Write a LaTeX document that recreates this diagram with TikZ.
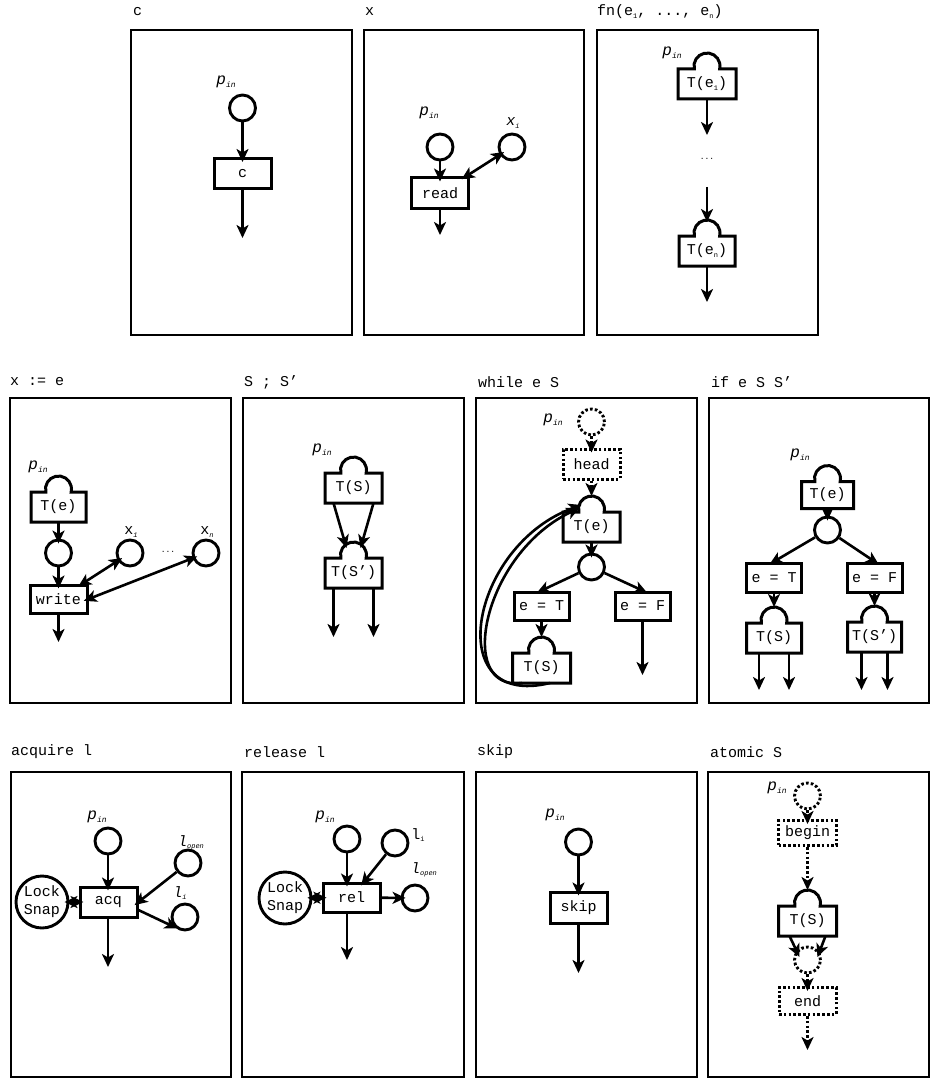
\documentclass[tikz,border=0pt]{standalone}
\usepackage{fontspec}
\usetikzlibrary{arrows.meta,calc}
\newfontfamily\cour{Liberation Mono}
\newcommand\labfont{\cour\fontsize{15}{18}\selectfont}
\newcommand\mysub[1]{\raisebox{-2.5pt}{\fontsize{7}{7}\selectfont #1}}
\newcommand\pinlab{{\itshape\fontsize{16}{16}\selectfont p}\raisebox{-3pt}{\itshape\fontsize{8}{8}\selectfont in}}
\newcommand\capbox[5][]{%
  \node[capbody, minimum width=#4pt, #1] (#2) at #3 {#5};
  \draw[nodeline] (#2.north west) -- ($(#2.north)+(-12.65,0)$) arc[start angle=193.3, end angle=-13.3, radius=13] -- (#2.north east) -- (#2.south east) -- (#2.south west) -- cycle;
  \coordinate (#2-cap) at ($(#2.north)+(0,16)$);
}
\tikzset{
  frame/.style={line width=2.7pt},
  nodeline/.style={line width=3pt, line join=miter},
  dotstyle/.style={dash pattern=on 2.6pt off 2.2pt},
  place/.style={circle, draw, line width=2.9pt, minimum size=26pt, inner sep=0pt},
  dotplace/.style={place, dotstyle},
  trans/.style={rectangle, draw, line width=3pt, minimum width=57pt, minimum height=30pt, inner sep=0pt, font=\labfont},
  dottrans/.style={trans, dotstyle},
  capbody/.style={rectangle, draw=none, minimum height=30pt, inner sep=0pt, outer sep=0pt, font=\labfont},
  lock/.style={circle, draw, line width=2.9pt, minimum size=52pt, inner sep=0pt, align=center, font=\labfont},
  lab/.style={anchor=west, inner sep=0pt, font=\labfont},
  plab/.style={inner sep=0pt, font=\labfont},
  dots/.style={inner sep=0pt, font=\cour\fontsize{8}{8}\selectfont},
  arr/.style={line width=2.6pt, -{Stealth[length=13pt, width=12pt, inset=3.5pt]}},
  arrin/.style={arr, shorten >=-5pt},
  darrin/.style={line width=2.6pt, {Stealth[length=13pt, width=12pt, inset=3.5pt]}-{Stealth[length=13pt, width=12pt, inset=3.5pt]}, shorten >=-5pt, shorten <=-5pt},
  dotarr/.style={arr, dotstyle},
  dotarrin/.style={arrin, dotstyle},
}
\begin{document}
\begin{tikzpicture}[x=1pt, y=1pt]
\useasboundingbox (0,0) rectangle (931,-1078);

% ---------- frames ----------
\draw[frame] (131,-30) rectangle (352,-335);
\draw[frame] (364,-30) rectangle (584,-335);
\draw[frame] (597,-30) rectangle (818,-335);
\draw[frame] (10,-398) rectangle (231,-703);
\draw[frame] (243,-398) rectangle (464,-703);
\draw[frame] (476,-398) rectangle (697,-703);
\draw[frame] (709,-398) rectangle (929,-703);
\draw[frame] (11,-772) rectangle (231,-1077);
\draw[frame] (242,-772) rectangle (464,-1077);
\draw[frame] (476,-772) rectangle (697,-1077);
\draw[frame] (708,-772) rectangle (929,-1077);

% ---------- titles ----------
\node[lab] (L1) at (133,-12) {c};
\node[lab] (L2) at (365,-12) {x};
\node[lab] (L3) at (597,-12) {fn(e\mysub{1}, ..., e\mysub{n})};
\node[lab] (L4) at (10,-382) {x := e};
\node[lab] (L5) at (244,-382) {S ; S’};
\node[lab] (L6) at (478,-382) {while e S};
\node[lab] (L7) at (711,-382) {if e S S’};
\node[lab] (L8) at (11,-752) {acquire l};
\node[lab] (L9) at (244,-752) {release l};
\node[lab] (L10) at (477,-752) {skip};
\node[lab] (L11) at (710,-752) {atomic S};

% ---------- c ----------
\node[plab] (c-pl) at (226,-82) {\pinlab};
\node[place] (c-p) at (242.5,-108) {};
\node[trans] (c-t) at (242.5,-173.5) {c};
\coordinate (c-o) at (242.5,-238);
\draw[arrin] (c-p) -- (c-t);
\draw[arr] (c-t) -- (c-o);

% ---------- x ----------
\node[plab] (x-pl) at (429,-113) {\pinlab};
\node[place] (x-p) at (440,-147) {};
\node[place] (x-x) at (512,-147) {};
\node[plab] (x-xl) at (513,-123) {{\itshape x}\mysub{\itshape i}};
\node[trans] (x-t) at (440,-193) {read};
\coordinate (x-o) at (440,-235);
\draw[arrin] (x-p) -- (x-t);
\draw[darrin] (x-t) -- (x-x);
\draw[arr] (x-t) -- (x-o);

% ---------- fn ----------
\node[plab] (f-pl) at (672,-53) {\pinlab};
\capbox{f-1}{(707,-84)}{58}{T(e\mysub{1})}
\coordinate (f-a) at (707,-135);
\node[dots] (f-d) at (707,-159) {...};
\coordinate (f-b) at (707,-187);
\capbox{f-n}{(707,-251)}{56}{T(e\mysub{n})}
\coordinate (f-o) at (707,-302);
\draw[arr] (f-1) -- (f-a);
\draw[arr, shorten >=-2pt] (f-b) -- (f-n-cap);
\draw[arr] (f-n) -- (f-o);

% ---------- x := e ----------
\node[plab] (a-pl) at (38,-467) {\pinlab};
\capbox{a-e}{(58.5,-507)}{55}{T(e)}
\node[place] (a-p) at (58.5,-553) {};
\node[trans, minimum height=28pt] (a-w) at (58.5,-599) {write};
\node[place] (a-x1) at (130,-553) {};
\node[plab] (a-x1l) at (131,-532) {x\mysub{\itshape 1}};
\node[dots] (a-d) at (168,-552) {...};
\node[place] (a-xn) at (206,-553) {};
\node[plab] (a-xnl) at (207,-532) {x\mysub{\itshape n}};
\coordinate (a-o) at (58.5,-642);
\draw[arrin] (a-e) -- (a-p);
\draw[arrin] (a-p) -- (a-w);
\draw[darrin] (a-w) -- (a-x1);
\draw[darrin] (a-w.east) -- (a-xn);
\draw[arr] (a-w) -- (a-o);

% ---------- S ; S' ----------
\node[plab] (s-pl) at (322,-450) {\pinlab};
\capbox{s-1}{(353.5,-488)}{57}{T(S)}
\capbox{s-2}{(353.5,-573)}{57}{T(S’)}
\coordinate (s-o1) at (333.5,-637);
\coordinate (s-o2) at (373.5,-637);
\draw[arr] ($(s-1.south)+(-20,0)$) -- ($(s-2-cap)+(-7,-6)$);
\draw[arr] ($(s-1.south)+(20,0)$) -- ($(s-2-cap)+(7,-6)$);
\draw[arr] ($(s-2.south)+(-20,0)$) -- (s-o1);
\draw[arr] ($(s-2.south)+(20,0)$) -- (s-o2);

% ---------- while e S ----------
\node[plab] (w-pl) at (553,-420) {\pinlab};
\node[dotplace] (w-p) at (591.5,-422) {};
\node[dottrans] (w-h) at (591.5,-464) {head};
\capbox{w-e}{(591.5,-527)}{57}{T(e)}
\node[place] (w-c) at (591.5,-567) {};
\node[trans, minimum width=55pt, minimum height=28pt] (w-t) at (541.5,-606) {e = T};
\node[trans, minimum width=55pt, minimum height=28pt] (w-f) at (642.5,-606) {e = F};
\capbox{w-s}{(541.5,-668)}{58}{T(S)}
\coordinate (w-o) at (642.5,-675);
\draw[dotarrin] (w-p) -- (w-h);
\draw[dotarr] (w-h) -- (w-e-cap);
\draw[arrin] (w-e) -- (w-c);
\draw[arrin] (w-c) -- (w-t.north);
\draw[arrin] (w-c) -- (w-f.north);
\draw[arr] (w-t) -- (w-s-cap);
\draw[arr] (w-f) -- (w-o);
\draw[arr] ($(w-s.south)+(8.5,0)$) .. controls (440,-710) and (470,-545) .. ($(w-e-cap)+(-10,-9)$);
\draw[arr] ($(w-s.south)+(-19.5,0)$) .. controls (455,-692) and (483,-553) .. ($(w-e-cap)+(-12,-12)$);

% ---------- if e S S' ----------
\node[plab] (i-pl) at (800,-455) {\pinlab};
\capbox[minimum height=27pt]{i-e}{(827.5,-495)}{52}{T(e)}
\node[place] (i-c) at (827.5,-530) {};
\node[trans, minimum width=55pt, minimum height=29pt] (i-t) at (774,-577.5) {e = T};
\node[trans, minimum width=55pt, minimum height=29pt] (i-f) at (874.5,-577.5) {e = F};
\capbox{i-s}{(774,-638)}{55}{T(S)}
\capbox{i-s2}{(874.5,-637)}{54}{T(S’)}
\coordinate (i-o1) at (759,-690);
\coordinate (i-o2) at (789,-690);
\coordinate (i-o3) at (861.5,-690);
\coordinate (i-o4) at (887.5,-690);
\draw[arrin] (i-e) -- (i-c);
\draw[arrin] (i-c) -- (i-t.north);
\draw[arrin] (i-c) -- (i-f.north);
\draw[arr] (i-t) -- (i-s-cap);
\draw[arr] (i-f) -- (i-s2-cap);
\draw[arr] (i-s.south -| i-o1) -- (i-o1);
\draw[arr] (i-s.south -| i-o2) -- (i-o2);
\draw[arr] (i-s2.south -| i-o3) -- (i-o3);
\draw[arr] (i-s2.south -| i-o4) -- (i-o4);

% ---------- acquire l ----------
\node[plab] (q-pl) at (97,-817) {\pinlab};
\node[place] (q-p) at (108,-841) {};
\node[trans] (q-t) at (108.5,-902) {acq};
\node[lock] (q-l) at (42,-902) {Lock\\Snap};
\node[place] (q-o) at (188,-863) {};
\node[plab] (q-ol) at (191,-843) {{\itshape l}\mysub{\itshape open}};
\node[place] (q-i) at (185,-917) {};
\node[plab] (q-il) at (180,-893) {{\itshape l}\mysub{\itshape i}};
\coordinate (q-x) at (108,-967);
\draw[arrin] (q-p) -- (q-p |- q-t.north);
\draw[darrin] (q-l) -- (q-t);
\draw[arrin] (q-o) -- (q-t.east);
\draw[arr, shorten >=-3pt] (q-t.-15) -- (q-i.-135);
\draw[arr] (q-p |- q-t.south) -- (q-x);

% ---------- release l ----------
\node[plab] (r-pl) at (325,-817) {\pinlab};
\node[place] (r-p) at (347,-839) {};
\node[trans, minimum height=29pt] (r-t) at (351.5,-897.5) {rel};
\node[lock] (r-l) at (285,-898) {Lock\\Snap};
\node[place] (r-i) at (395,-843) {};
\node[plab] (r-il) at (418,-835) {l\mysub{i}};
\node[place] (r-o) at (415,-898) {};
\node[plab] (r-ol) at (424,-870) {{\itshape l}\mysub{\itshape open}};
\coordinate (r-x) at (347,-960);
\draw[arrin] (r-p) -- (r-p |- r-t.north);
\draw[arrin] (r-i) -- (r-t);
\draw[arrin] (r-t) -- (r-o);
\draw[darrin] (r-l) -- (r-t);
\draw[arr] (r-p |- r-t.south) -- (r-x);

% ---------- skip ----------
\node[plab] (k-pl) at (555,-815) {\pinlab};
\node[place] (k-p) at (578.5,-842) {};
\node[trans, minimum height=31pt] (k-t) at (578.5,-907.5) {skip};
\coordinate (k-x) at (578.5,-973);
\draw[arrin] (k-p) -- (k-t);
\draw[arr] (k-t) -- (k-x);

% ---------- atomic S ----------
\node[plab] (m-pl) at (777,-788) {\pinlab};
\node[dotplace] (m-p) at (807.5,-796) {};
\node[dottrans, minimum width=58pt, minimum height=25pt] (m-b) at (807.5,-833) {begin};
\capbox{m-s}{(807.5,-921)}{58}{T(S)}
\node[dotplace] (m-c) at (807.5,-960) {};
\node[dottrans, minimum width=57pt, minimum height=27pt] (m-e) at (807.5,-1001) {end};
\coordinate (m-x) at (807.5,-1050);
\draw[dotarrin] (m-p) -- (m-b);
\draw[dotarr] (m-b) -- (m-s-cap);
\draw[arr] ($(m-s.south)+(-18,0)$) -- ($(m-c)+(-8,3)$);
\draw[arr] ($(m-s.south)+(18,0)$) -- ($(m-c)+(10,3)$);
\draw[dotarrin] (m-c) -- (m-e);
\draw[dotarr] (m-e) -- (m-x);
\end{tikzpicture}
\end{document}
